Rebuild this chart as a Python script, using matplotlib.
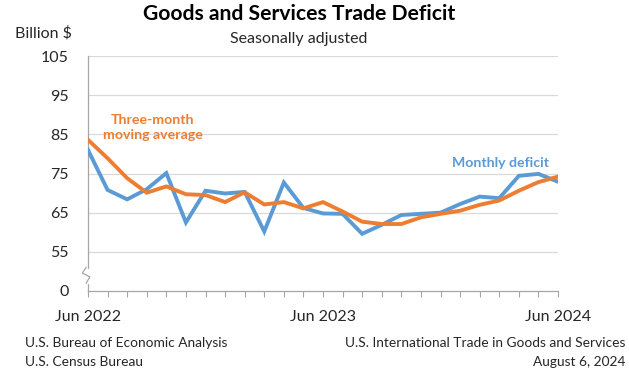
import matplotlib
matplotlib.use("Agg")
import matplotlib.pyplot as plt
from matplotlib.lines import Line2D

plt.rcParams['font.family'] = ['Lato', 'DejaVu Sans']

months = list(range(25))
tick_labels = {0: "Jun 2022", 12: "Jun 2023", 24: "Jun 2024"}

monthly = [81.0, 70.8, 68.4, 71.0, 75.1, 62.5, 70.6, 69.9, 70.3, 60.2,
           72.7, 66.2, 64.8, 64.7, 59.6, 61.9, 64.4, 64.7, 65.0, 67.2,
           69.1, 68.7, 74.4, 74.9, 72.9]
moving_avg = [83.6, 78.9, 73.8, 70.1, 71.7, 69.7, 69.5, 67.7, 70.2, 67.1,
              67.7, 66.1, 67.7, 65.3, 62.7, 62.1, 62.1, 63.8, 64.7, 65.5,
              67.0, 68.1, 70.6, 72.8, 74.2]

y_ticks = [45, 55, 65, 75, 85, 95, 105]
y_tick_labels = ["0", "55", "65", "75", "85", "95", "105"]

BLUE = "#5B9BD5"
ORANGE = "#ED7D31"
GRID = "#D9D9D9"
AXIS = "#A6A6A6"
TEXT = "#262626"


def main():
    fig = plt.figure(figsize=(6.29, 3.76), dpi=100)
    ax = fig.add_axes([88 / 629, 1 - 291 / 376, 470 / 629, 235 / 376])

    ax.plot(months, monthly, color=BLUE, lw=2.8, solid_joinstyle='miter', zorder=3)
    ax.plot(months, moving_avg, color=ORANGE, lw=2.8, solid_joinstyle='miter', zorder=4)

    ax.set_xlim(0, 24)
    ax.set_ylim(45, 105)
    ax.set_yticks(y_ticks)
    ax.set_yticklabels(y_tick_labels, fontsize=11.5, color=TEXT)
    ax.tick_params(axis='y', length=0, pad=14)
    ax.set_xticks(months)
    ax.set_xticklabels([tick_labels.get(m, "") for m in months],
                       fontsize=11.5, color=TEXT)
    ax.tick_params(axis='x', length=4, width=0.8, color=AXIS, pad=10)

    for y in y_ticks[1:]:
        ax.axhline(y, color=GRID, lw=0.9, zorder=1)

    for s in ['top', 'right']:
        ax.spines[s].set_visible(False)
    for s in ['left', 'bottom']:
        ax.spines[s].set_color(AXIS)
        ax.spines[s].set_linewidth(0.9)

    # axis break on the y axis
    tr = ax.get_yaxis_transform()
    ax.add_line(Line2D([0, 0], [50.2, 47.2], transform=tr, color="white",
                       lw=3, clip_on=False, zorder=5))
    ax.add_line(Line2D([-0.004, -0.012, 0.004, -0.004],
                       [51.0, 49.6, 48.6, 47.0], transform=tr,
                       color=AXIS, lw=0.9, clip_on=False, zorder=6))

    ax.text(3.3, 86.8, "Three-month\nmoving average", color=ORANGE,
            fontsize=10.2, fontweight='bold', ha='center', va='center',
            linespacing=1.3)
    ax.text(21.05, 77.8, "Monthly deficit", color=BLUE, fontsize=10.2,
            fontweight='bold', ha='center', va='center')

    fig.text(299 / 629, 1 - 14 / 376, "Goods and Services Trade Deficit",
             fontsize=15.2, fontweight='bold', ha='center', va='center',
             color='black')
    fig.text(299 / 629, 1 - 39 / 376, "Seasonally adjusted", fontsize=11.5,
             ha='center', va='center', color=TEXT)
    fig.text(15 / 629, 1 - 33 / 376, "Billion $", fontsize=11.5,
             ha='left', va='center', color=TEXT)

    fig.text(25 / 629, 1 - 343 / 376, "U.S. Bureau of Economic Analysis",
             fontsize=9.9, ha='left', va='center', color=TEXT)
    fig.text(25 / 629, 1 - 362 / 376, "U.S. Census Bureau",
             fontsize=9.9, ha='left', va='center', color=TEXT)
    fig.text(625 / 629, 1 - 343 / 376,
             "U.S. International Trade in Goods and Services",
             fontsize=9.9, ha='right', va='center', color=TEXT)
    fig.text(625 / 629, 1 - 362 / 376, "August 6, 2024",
             fontsize=9.9, ha='right', va='center', color=TEXT)

    fig.savefig("out.png", dpi=100)


if __name__ == '__main__':
    main()
